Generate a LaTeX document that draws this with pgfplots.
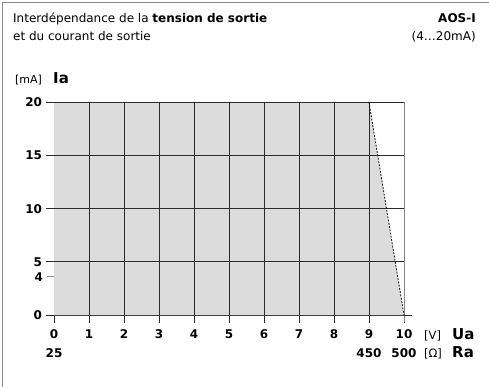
\documentclass[border=0pt]{standalone}
\usepackage{pgfplots}
\pgfplotsset{compat=1.18}
\usepackage{fontspec}
\setmainfont{DejaVu Sans}
\definecolor{fillgray}{HTML}{DCDCDD}
\definecolor{gridc}{HTML}{2A2A2A}
\definecolor{framec}{HTML}{8A8A8A}
\begin{document}
\begin{tikzpicture}
\path[use as bounding box] (0pt,0pt) rectangle (489pt,-387pt);
\draw[framec, line width=1.3pt] (2.5pt,-387pt) -- (2.5pt,-2.5pt) -- (489pt,-2.5pt);
% titles
\node[anchor=base west, inner sep=0pt, font=\fontsize{12}{14}\selectfont] at (13pt,-23pt) {Interdépendance de la \textbf{tension de sortie}};
\node[anchor=base west, inner sep=0pt, font=\fontsize{12}{14}\selectfont] at (13pt,-41pt) {et du courant de sortie};
\node[anchor=base east, inner sep=0pt, font=\fontsize{12}{14}\selectfont\bfseries] at (476pt,-23pt) {AOS-I};
\node[anchor=base east, inner sep=0pt, font=\fontsize{12}{14}\selectfont] at (476pt,-41pt) {(4…20mA)};
\begin{axis}[
  at={(54pt,-315pt)}, anchor=origin,
  x=35pt, y=10.63pt,
  xmin=0, xmax=10, ymin=0, ymax=20,
  axis lines*=left,
  axis line style={gridc, line width=0.9pt},
  clip=false,
  xtick={0,...,10}, ytick={0,5,10,15,20},
  extra y ticks={3.6}, extra y tick labels={4},
  extra y tick style={tick align=center, major tick length=13pt, tick style={framec, line width=1pt}},
  tick align=outside, major tick length=7.5pt,
  tick style={gridc, line width=0.9pt},
  /pgf/number format/assume math mode=true,
  ticklabel style={font=\fontsize{12}{14}\selectfont\bfseries},
  xticklabel style={yshift=-4pt},
  yticklabel style={xshift=-1pt},
]
\addplot[draw=none, fill=fillgray] coordinates {(0,0) (0,20) (9,20) (10,0)} -- cycle;
\pgfplotsinvokeforeach{1,...,9}{
  \addplot[gridc, line width=0.9pt] coordinates {(#1,0) (#1,20)};
}
\pgfplotsinvokeforeach{5,10,15,20}{
  \addplot[gridc, line width=0.9pt] coordinates {(0,#1) (10,#1)};
}
\addplot[framec, line width=1pt] coordinates {(10,-0.7) (10,20)};
\addplot[gridc, line width=0.9pt] coordinates {(10,0) (10.23,0)};
\addplot[black, line width=0.8pt, dash pattern=on 1.8pt off 1.5pt] coordinates {(9,20) (10,0)};
\node[anchor=base, inner sep=0pt, font=\fontsize{12}{14}\selectfont\bfseries] at (axis cs:0,0) [yshift=-42pt] {25};
\node[anchor=base, inner sep=0pt, font=\fontsize{12}{14}\selectfont\bfseries] at (axis cs:9,0) [yshift=-42pt] {450};
\node[anchor=base, inner sep=0pt, font=\fontsize{12}{14}\selectfont\bfseries] at (axis cs:10,0) [yshift=-42pt] {500};
\end{axis}
\node[anchor=base west, inner sep=0pt, font=\fontsize{11.5}{14}\selectfont] at (424pt,-339pt) {[V]};
\node[anchor=base west, inner sep=0pt, font=\fontsize{15}{18}\selectfont\bfseries] at (452pt,-339pt) {Ua};
\node[anchor=base west, inner sep=0pt, font=\fontsize{11.5}{14}\selectfont] at (424pt,-357pt) {[Ω]};
\node[anchor=base west, inner sep=0pt, font=\fontsize{15}{18}\selectfont\bfseries] at (452pt,-357pt) {Ra};
\node[anchor=base west, inner sep=0pt, font=\fontsize{11}{14}\selectfont] at (15pt,-84pt) {[mA]};
\node[anchor=base west, inner sep=0pt, font=\fontsize{15}{18}\selectfont\bfseries] at (53pt,-84pt) {Ia};
\end{tikzpicture}
\end{document}
